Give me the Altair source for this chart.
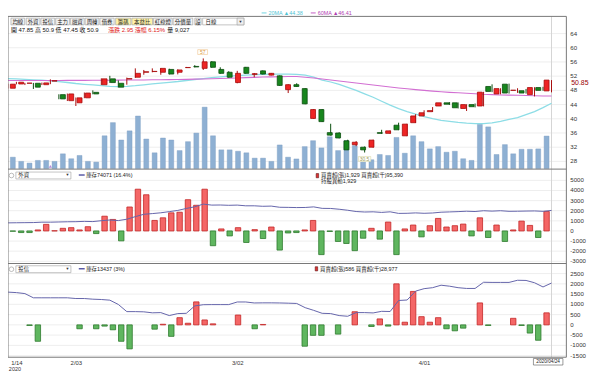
import altair as alt
import pandas as pd

FONT = "Liberation Sans, Noto Sans CJK TC, sans-serif"
RED, RED_D = "#ee2424", "#a80c0c"
GRN, GRN_D = "#17861d", "#0a4d0e"

# ---------------- data ----------------
opens = [48.6, 49.8, 50.0, 50.0, 49.6, 50.6, 46.8, 45.1, 44.5, 45.9,
         47.45, 49.6, 51.25, 50.0, 51.2, 51.7, 53.1, 53.3, 53.1, 53.9,
         53.1, 54.4, 54.75, 54.2, 56.05, 53.9, 53.1, 50.2, 54.5, 52.5,
         53.5, 52.3, 52.1, 48.2, 49.6, 48.5, 40.1, 42.6, 36.1, 36.0,
         33.8, 32.7, 32.0, 32.0, 36.1, 35.9, 38.2, 35.2, 38.9, 40.8,
         42.0, 43.6, 44.5, 44.5, 42.9, 44.0, 43.6, 49.1, 47.0, 49.75,
         48.0, 47.9, 46.8, 48.8, 47.85]
highs = [49.9, 50.4, 50.1, 50.1, 50.2, 51.1, 46.9, 47.1, 46.0, 47.4,
         48.0, 51.4, 52.1, 50.8, 51.6, 54.2, 53.75, 54.2, 54.3, 54.1,
         53.9, 54.6, 55.1, 57.0, 56.2, 54.5, 53.4, 53.5, 54.6, 52.9,
         53.6, 52.9, 52.2, 49.7, 50.0, 48.6, 42.7, 42.7, 38.6, 36.2,
         34.1, 33.7, 32.2, 34.1, 36.9, 36.7, 38.9, 38.6, 41.3, 42.4,
         43.3, 44.6, 44.7, 44.6, 44.1, 44.3, 47.6, 49.7, 48.6, 49.9,
         48.6, 48.4, 48.9, 49.0, 50.9]
lows = [48.5, 49.7, 49.5, 48.4, 49.5, 49.75, 45.5, 45.0, 43.6, 45.8,
        46.9, 49.5, 50.1, 48.8, 49.6, 51.5, 52.4, 53.1, 52.4, 52.5,
        52.5, 54.3, 54.5, 53.75, 54.4, 52.7, 51.6, 50.0, 52.7, 51.7,
        52.5, 52.2, 49.3, 47.25, 49.0, 44.1, 40.0, 39.1, 35.3, 34.5,
        31.2, 32.3, 30.5, 31.9, 35.8, 35.8, 36.8, 35.1, 38.8, 40.7,
        41.9, 43.5, 43.9, 42.9, 42.2, 43.2, 43.5, 47.5, 46.9, 47.1,
        47.3, 47.1, 46.3, 47.9, 47.45]
closes = [49.75, 50.3, 50.05, 48.9, 50.1, 50.75, 45.6, 47.0, 45.9, 47.25,
          47.0, 51.25, 50.2, 48.9, 51.3, 52.8, 53.25, 53.35, 54.2, 52.6,
          53.75, 54.45, 54.6, 56.05, 54.5, 52.8, 51.7, 52.8, 52.8, 52.7,
          52.6, 52.8, 49.4, 49.6, 49.1, 44.2, 42.6, 39.2, 35.4, 34.6,
          31.25, 33.4, 31.25, 34.0, 35.9, 36.6, 36.9, 38.5, 40.8, 41.7,
          42.3, 44.5, 44.1, 43.1, 44.0, 43.4, 47.5, 47.7, 48.5, 47.25,
          48.05, 47.25, 48.8, 48.0, 50.9]
volumes = [3170, 2000, 1530, 2270, 2270, 2000, 4100, 2735, 3640, 2000,
           1800, 9100, 12750, 7930, 10470, 14580, 8200, 4380, 8480, 7930,
           5000, 7470, 9850, 17040, 9100, 5200, 5200, 4810, 4380, 2900,
           2900, 2000, 6560, 3170, 2680, 6100, 7740, 5740, 8830, 5000,
           7740, 6370, 1800, 2460, 3910, 3640, 8640, 4270, 9100, 7470,
           5470, 6100, 4540, 4810, 2735, 2270, 12300, 11570, 3910, 6650,
           4100, 5360, 5360, 5470, 9027]
ma20 = [51.33, 51.25, 51.11, 50.97, 50.86, 50.69, 50.44, 50.22, 49.94, 49.72,
        49.53, 49.31, 49.11, 49.06, 49.11, 49.31, 49.58, 49.81, 50.06, 50.28,
        50.5, 50.78, 51.06, 51.33, 51.56, 51.81, 52.03, 52.17, 52.31, 52.44,
        52.53, 52.58, 52.58, 52.56, 52.5, 52.31, 51.75, 50.92, 50.36, 49.67,
        48.83, 48.0, 47.03, 46.06, 44.94, 43.83, 42.86, 42.03, 41.33, 40.64,
        40.08, 39.58, 39.25, 38.97, 38.75, 38.64, 38.64, 38.83, 39.25, 39.86,
        40.36, 41.19, 42.03, 43.14, 44.38]
ma60 = [50.78, 50.78, 50.78, 50.78, 50.78, 50.78, 50.79, 50.81, 50.81, 50.82,
        50.83, 50.85, 50.86, 50.89, 50.9, 50.92, 50.94, 50.97, 51.0, 51.03,
        51.06, 51.11, 51.17, 51.22, 51.28, 51.33, 51.42, 51.5, 51.58, 51.67,
        51.75, 51.81, 51.86, 51.89, 51.89, 51.72, 51.47, 51.19, 50.92, 50.64,
        50.36, 50.08, 49.81, 49.53, 49.25, 48.97, 48.69, 48.44, 48.22, 48.0,
        47.78, 47.61, 47.44, 47.31, 47.17, 47.03, 46.89, 46.81, 46.72, 46.67,
        46.61, 46.56, 46.5, 46.44, 46.41]
foreign = [-30, -160, -160, 100, 650, 20, 260, 325, 100, 420,
           -260, 1460, 1140, -980, 2370, 4130, 3580, 1040, 1300, 1790,
           1850, 3090, 2540, 4130, -1460, 200, -490, 325, -1140, 130,
           -750, 390, -1890, -200, -160, 100, 1040, -2340, -50, -1040,
           -1240, -1950, -720, 260, -810, 880, -2340, 200, 585, -585,
           520, 1240, 390, 520, 680, -490, 1300, -650, 585, -1040,
           100, 975, 550, -650, 1929]
foreign_hold = [54790, 54950, 55100, 55250, 55860, 55860, 56170, 56480, 56630, 57090,
                56780, 58160, 59230, 58310, 60450, 64430, 68100, 69180, 70400, 72240,
                74070, 77130, 79730, 83860, 82330, 82490, 82030, 82330, 81260, 81260,
                80500, 80800, 78970, 78810, 78510, 78660, 79580, 77280, 77130, 75910,
                74380, 72390, 71620, 71930, 71010, 71930, 69480, 69630, 70250, 69630,
                70090, 71320, 71780, 72240, 72850, 72390, 73610, 73000, 73610, 72690,
                72850, 73100, 73300, 72700, 74071]
trust = [0, 0, -30, -800, 0, 0, 0, 0, -190, 0,
         -190, -60, -240, -800, -1170, 0, 0, -210, 30, -560,
         350, 80, 1120, 240, 50, 0, 0, 480, 0, -190,
         20, 0, 0, 0, 0, -1040, -510, -510, 0, -450,
         0, 640, 0, -80, 290, -60, 2000, 130, 1630, 400,
         130, 350, -190, -290, -160, 0, 1070, -30, 0, 0,
         320, -30, -400, -750, 586]
trust_hold = [11780, 11690, 11510, 10740, 10740, 10740, 10740, 10740, 10610, 10610,
              10490, 10430, 10310, 9530, 8220, 8220, 8180, 8000, 8040, 7500,
              7860, 7910, 9260, 9480, 9500, 9500, 9500, 9980, 9980, 9800,
              9820, 9820, 9800, 9760, 9710, 8940, 8450, 7910, 7860, 7500,
              7370, 8040, 8040, 7980, 8270, 8240, 10250, 10340, 11960, 12410,
              12590, 13040, 12860, 12590, 12450, 12450, 13580, 13550, 13550, 13550,
              13940, 13910, 13490, 12720, 13437]
date_idx = [1, 8, 27, 49]
date_labels = ["1/14", "2/03", "3/02", "4/01"]
price_ticks = [28, 32, 36, 40, 44, 48, 52, 56, 60, 64]
foreign_ticks = [-3000, -2000, -1000, 0, 1000, 2000, 3000, 4000, 5000]
trust_ticks = [-1500, -1000, -500, 0, 500, 1000, 1500, 2000, 2500]


def cx(x):
    return round((x - 5) * 0.9965, 2)


def cy(y):
    return round(y - 8, 2)


n = len(opens)
idx = list(range(n))
cdf = pd.DataFrame({"i": idx, "o": opens, "h": highs, "l": lows, "c": closes,
                    "v": volumes, "ma20": ma20, "ma60": ma60, "z": [0] * n})
cdf["dir"] = ["up" if c >= o else "down" for o, c in zip(opens, closes)]
fdf = pd.DataFrame({"i": idx, "f": foreign, "fh": foreign_hold, "z": [0] * n})
fdf["pdir"] = ["pup" if v >= 0 else "pdown" for v in foreign]
tdf = pd.DataFrame({"i": idx, "t": trust, "th": trust_hold, "z": [0] * n})
tdf["pdir"] = ["pup" if v >= 0 else "pdown" for v in trust]
tdf_nz = tdf[tdf["t"] != 0]

XS = alt.Scale(domain=[0, 64], range=[-0.1, 550.96], nice=False, zero=False)
PS = alt.Scale(domain=[28, 64], range=[153, 23.4], nice=False, zero=False)
VS = alt.Scale(domain=[0, 40000], range=[160.3, 14.05], nice=False, zero=False)
FS = alt.Scale(domain=[-3000, 5000], range=[254.25, 172.25], nice=False, zero=False)
FLS = alt.Scale(domain=[50000, 90000], range=[218.43, 192.29], nice=False, zero=False)
TS = alt.Scale(domain=[-1500, 2500], range=[349.9, 266.7], nice=False, zero=False)
TLS = alt.Scale(domain=[6000, 16000], range=[317.6, 262.06], nice=False, zero=False)

X = alt.X("i:Q", scale=XS, axis=None)
fill_dir = alt.Fill("dir:N", scale=alt.Scale(domain=["up", "down"], range=[RED, GRN]), legend=None)
stroke_dir = alt.Stroke("dir:N", scale=alt.Scale(domain=["up", "down"], range=[RED_D, GRN_D]), legend=None)
pfill_dir = alt.Fill("pdir:N", scale=alt.Scale(domain=["pup", "pdown"], range=["#f46666", "#5fb65f"]), legend=None)
pstroke_dir = alt.Stroke("pdir:N", scale=alt.Scale(domain=["pup", "pdown"], range=["#c42626", "#2c7a2c"]), legend=None)


def grid(vals, scale):
    df = pd.DataFrame({"v": vals})
    return alt.Chart(df).mark_rule(color="#eeeeee", strokeWidth=1).encode(
        x=alt.value(0), x2=alt.value(cx(573)), y=alt.Y("v:Q", scale=scale, axis=None))


def tick_labels(vals, scale):
    df = pd.DataFrame({"v": vals, "t": [str(v) for v in vals]})
    return alt.Chart(df).mark_text(align="left", baseline="middle", fontSize=6.2,
                                   font=FONT, color="#333333").encode(
        x=alt.value(cx(577)), y=alt.Y("v:Q", scale=scale, axis=None), text="t:N")


def text_layer(rows, align="left"):
    df = pd.DataFrame(rows, columns=["x", "y", "t", "s", "col"])
    df["x"] = df["x"].map(cx)
    df["y"] = df["y"].map(cy)
    return alt.Chart(df).mark_text(align=align, baseline="middle", font=FONT).encode(
        x=alt.X("x:Q", scale=None), y=alt.Y("y:Q", scale=None), text="t:N",
        size=alt.Size("s:Q", scale=None), color=alt.Color("col:N", scale=None))


def rect_layer(rows, sw=0.6):
    df = pd.DataFrame(rows, columns=["x", "x2", "y", "y2", "fill", "stroke"])
    for c in ["x", "x2"]:
        df[c] = df[c].map(cx)
    for c in ["y", "y2"]:
        df[c] = df[c].map(cy)
    return alt.Chart(df).mark_rect(strokeWidth=sw).encode(
        x=alt.X("x:Q", scale=None), x2="x2:Q", y=alt.Y("y:Q", scale=None), y2="y2:Q",
        fill=alt.Fill("fill:N", scale=None), stroke=alt.Stroke("stroke:N", scale=None))


def seg_layer(rows):
    df = pd.DataFrame(rows, columns=["x", "x2", "y", "y2", "col", "w"])
    for c in ["x", "x2"]:
        df[c] = df[c].map(cx)
    for c in ["y", "y2"]:
        df[c] = df[c].map(cy)
    return alt.Chart(df).mark_rule().encode(
        x=alt.X("x:Q", scale=None), x2="x2:Q", y=alt.Y("y:Q", scale=None), y2="y2:Q",
        color=alt.Color("col:N", scale=None), strokeWidth=alt.StrokeWidth("w:Q", scale=None))


layers = []
# grids
layers += [grid(price_ticks, PS), grid(foreign_ticks, FS), grid(trust_ticks, TS)]
# crosshair at last bar
layers.append(alt.Chart(cdf[cdf["i"] == 64]).mark_rule(color="#d4d4d4", strokeWidth=1).encode(
    x=X, y=alt.value(cy(14)), y2=alt.value(cy(359.5))))
# volume
layers.append(alt.Chart(cdf).mark_bar(size=5, color="#8eb0d3", stroke="#7a9cc2", strokeWidth=0.4).encode(
    x=X, y=alt.Y("v:Q", scale=VS, axis=None), y2=alt.Y2("z:Q")))
# event marker
layers.append(alt.Chart(cdf[cdf["i"] == 5]).mark_point(shape="triangle-up", filled=True, size=10,
                                                        color="#9a58c8").encode(
    x=X, y=alt.value(cy(166))))
# moving averages
layers.append(alt.Chart(cdf).mark_line(color="#8ddde6", strokeWidth=1.3).encode(
    x=X, y=alt.Y("ma20:Q", scale=PS, axis=None)))
layers.append(alt.Chart(cdf).mark_line(color="#d26fd2", strokeWidth=1.1).encode(
    x=X, y=alt.Y("ma60:Q", scale=PS, axis=None)))
# candles
layers.append(alt.Chart(cdf).mark_rule(strokeWidth=1).encode(
    x=X, y=alt.Y("l:Q", scale=PS, axis=None), y2="h:Q", stroke=stroke_dir))
layers.append(alt.Chart(cdf).mark_bar(size=5, strokeWidth=0.8).encode(
    x=X, y=alt.Y("o:Q", scale=PS, axis=None), y2="c:Q", fill=fill_dir, stroke=stroke_dir))
# foreign panel
layers.append(alt.Chart(fdf).mark_bar(size=5.5, strokeWidth=0.8).encode(
    x=X, y=alt.Y("f:Q", scale=FS, axis=None), y2="z:Q", fill=pfill_dir, stroke=pstroke_dir))
layers.append(alt.Chart(fdf).mark_line(color="#6464aa", strokeWidth=1).encode(
    x=X, y=alt.Y("fh:Q", scale=FLS, axis=None)))
# trust panel
layers.append(alt.Chart(tdf_nz).mark_bar(size=5.5, strokeWidth=0.8).encode(
    x=X, y=alt.Y("t:Q", scale=TS, axis=None), y2="z:Q", fill=pfill_dir, stroke=pstroke_dir))
layers.append(alt.Chart(tdf).mark_line(color="#6464aa", strokeWidth=1).encode(
    x=X, y=alt.Y("th:Q", scale=TLS, axis=None)))

# frames and legend segments
layers.append(seg_layer([
    (5, 573, 14, 14, "#777777", 1),
    (5, 573, 168.8, 168.8, "#777777", 1),
    (5, 573, 264.5, 264.5, "#777777", 1),
    (5, 573, 359.5, 359.5, "#777777", 1),
    (5, 5, 14, 359.5, "#777777", 1),
    (573, 573, 14, 359.5, "#777777", 1),
    (263, 268, 10.5, 10.5, "#6fd3e0", 1),
    (313, 318, 10.5, 10.5, "#c25ac2", 1),
    (77, 83, 174.8, 174.8, "#5a5aa6", 1.5),
    (77, 83, 269.8, 269.8, "#5a5aa6", 1.5),
]))

# axis labels
layers += [tick_labels(price_ticks, PS), tick_labels(foreign_ticks, FS), tick_labels(trust_ticks, TS)]

# toolbar
buttons = [(8, 22, "均線", False), (23.5, 37.5, "外資", False), (38.5, 52.5, "投信", False),
           (53.5, 67.5, "主力", False), (68.5, 82.5, "融資", False), (83.5, 97.5, "周轉", False),
           (98.5, 113, "借券", False), (114.5, 130, "籌碼", True), (131, 152, "本益比", True),
           (153, 172, "紅綠燈", False), (173, 193, "分價量", False), (195, 201.5, "設", False)]
rects = [(b[0], b[1], 15.8, 22.6, "#fff2a8" if b[3] else "#f3f3f3", "#9a9a9a") for b in buttons]
rects += [(203, 245, 15.8, 22.6, "#ffffff", "#9a9a9a"), (238, 245, 15.8, 22.6, "#eeeeee", "#9a9a9a"),
          (13, 69, 171.8, 178.8, "#ffffff", "#9a9a9a"), (13, 69, 266.8, 273.8, "#ffffff", "#9a9a9a"),
          (198, 208, 47.7, 52.6, "#ffffff", "#f0c48c"), (361.5, 374, 156, 161, "#ffffff", "#d8d8a4"),
          (318.5, 321, 173.3, 177.6, "#e03030", "#5a1a1a"), (317.5, 320, 267.8, 272, "#e03030", "#5a1a1a"),
          (539.5, 569.5, 360.8, 367.4, "#ffffff", "#555555")]
layers.append(rect_layer(rects))
# radio circles
rdf = pd.DataFrame({"x": [cx(8.5), cx(8.5)], "y": [cy(175.3), cy(270.3)]})
layers.append(alt.Chart(rdf).mark_point(shape="circle", filled=False, size=22, color="#888888",
                                        strokeWidth=0.8).encode(
    x=alt.X("x:Q", scale=None), y=alt.Y("y:Q", scale=None)))

center_text = [((b[0] + b[1]) / 2, 19.3, b[2], 5.5, "#222222") for b in buttons]
center_text += [(241.5, 19.3, "▼", 4, "#333333"), (203, 50.2, "57", 5, "#d8983c"),
                (367.7, 158.6, "30.5", 5, "#9c9c5c"), (554.5, 364.2, "2020/04/24", 4.8, "#222222"),
                (12, 371.5, "2020", 5.5, "#333333")]
center_text += [(cx_i, 365.2, lab, 6, "#333333") for cx_i, lab in
                [(4.9 + 8.64 * i + 0.5, lab) for i, lab in zip(date_idx, date_labels)]]
layers.append(text_layer(center_text, align="center"))

left_text = [
    (270, 10.5, "20MA ▲44.38", 5.5, "#4fc3d3"),
    (320, 10.5, "60MA ▲46.41", 5.5, "#b040b0"),
    (206, 19.3, "日線", 5.5, "#222222"),
    (8, 27.8, "開 47.85 高 50.9 低 47.45 收 50.9", 6, "#111111"),
    (107, 27.8, "漲跌 2.95", 6, "#e01818"),
    (134, 27.8, "漲幅 6.15%", 6, "#e01818"),
    (167, 27.8, "量 9,027", 6, "#111111"),
    (578, 81.4, "50.85", 7, "#9a0000"),
    (15.5, 175.3, "外資", 5.5, "#222222"),
    (63.5, 175.3, "▼", 4, "#333333"),
    (84.5, 174.8, "庫存74071 (16.4%)", 5.5, "#222222"),
    (323.5, 175.0, "買賣超(張)1,929 買賣超(千)95,390", 5.5, "#222222"),
    (323.5, 181.0, "持股異動1,929", 5.5, "#222222"),
    (15.5, 270.3, "投信", 5.5, "#222222"),
    (63.5, 270.3, "▼", 4, "#333333"),
    (84.5, 269.8, "庫存13437 (3%)", 5.5, "#222222"),
    (322.5, 270.0, "買賣超(張)586 買賣超(千)28,977", 5.5, "#222222"),
]
layers.append(text_layer(left_text, align="left"))

chart = alt.layer(*layers).resolve_scale(
    x="independent", y="independent", fill="independent", stroke="independent",
    color="independent").properties(
    width=592, height=366, padding=0, autosize=alt.AutoSizeParams(type="none"),
    background="white").configure_view(stroke=None)

chart.save("out.html", embed_options={"renderer": "svg", "actions": False})
